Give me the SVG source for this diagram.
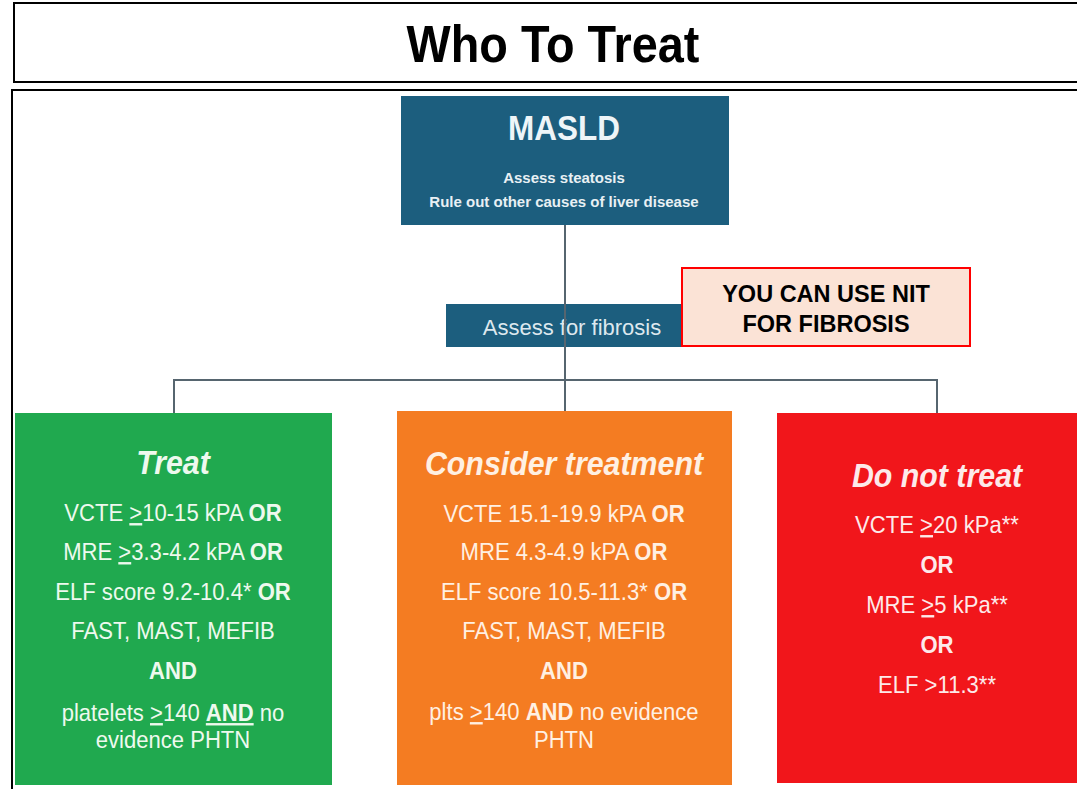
<svg xmlns="http://www.w3.org/2000/svg" width="1077" height="789" viewBox="0 0 1077 789">
<style>
text{font-family:"Liberation Sans",Arial,sans-serif;text-anchor:middle}
.body{font-size:24px}
.b{font-weight:bold}
.u{text-decoration:underline}
.head{font-size:33px;font-weight:bold;font-style:italic}
.conn{stroke:#56656f;stroke-width:2;fill:none}
.tg{fill:#eef9ee}
.to{fill:#fff0e2}
.tr{fill:#fdeaea}
.blue{fill:#1c5e7e}
</style>
<rect width="1077" height="789" fill="#ffffff"/>
<g id="title">
<rect x="14" y="3" width="1070" height="79" fill="#ffffff" stroke="#000000" stroke-width="2"/>
<text transform="translate(553,62) scale(0.9,1)" class="b" font-size="52" fill="#000000">Who To Treat</text>
</g>
<g id="frame">
<path d="M12,789 V90 H1077" fill="none" stroke="#000000" stroke-width="2"/>
</g>
<g id="masld">
<rect x="401" y="96" width="328" height="129" class="blue"/>
<text transform="translate(564,140) scale(0.9,1)" class="b" font-size="35" fill="#eef5f8">MASLD</text>
<text x="564" y="183" class="b" font-size="15" fill="#e8f0f4">Assess steatosis</text>
<text x="564" y="207" class="b" font-size="15" fill="#e8f0f4">Rule out other causes of liver disease</text>
</g>
<g id="fibrosis">
<rect x="446" y="304" width="252" height="43" class="blue"/>
<text x="572" y="335" font-size="22" fill="#dde8ee">Assess for fibrosis</text>
</g>
<g id="connectors">
<path class="conn" d="M565,225 V411"/>
<path class="conn" d="M174,413 V380 H937 V413"/>
</g>
<g id="callout">
<rect x="682" y="268" width="288" height="78" fill="#fbe3d6" stroke="#ff0000" stroke-width="2"/>
<text x="826" y="302" class="b" font-size="23.5" fill="#000000">YOU CAN USE NIT</text>
<text x="826" y="332" class="b" font-size="23.5" fill="#000000">FOR FIBROSIS</text>
</g>
<g id="treat">
<rect x="15" y="413" width="317" height="372" fill="#20a94f"/>
<g transform="translate(173,0) scale(0.92,1)" class="tg">
<text x="0" y="474" class="head">Treat</text>
<text x="0" y="521" class="body">VCTE <tspan class="u">&gt;</tspan>10-15 kPA <tspan class="b">OR</tspan></text>
<text x="0" y="560" class="body">MRE <tspan class="u">&gt;</tspan>3.3-4.2 kPA <tspan class="b">OR</tspan></text>
<text x="0" y="600" class="body">ELF score 9.2-10.4* <tspan class="b">OR</tspan></text>
<text x="0" y="639" class="body">FAST, MAST, MEFIB</text>
<text x="0" y="679" class="body b">AND</text>
<text x="0" y="721" class="body">platelets <tspan class="u">&gt;</tspan>140 <tspan class="b u">AND</tspan> no</text>
<text x="0" y="748" class="body">evidence PHTN</text>
</g>
</g>
<g id="consider">
<rect x="397" y="411" width="335" height="374" fill="#f47c22"/>
<g transform="translate(564,0) scale(0.92,1)" class="to">
<text x="0" y="475" class="head">Consider treatment</text>
<text x="0" y="522" class="body">VCTE 15.1-19.9 kPA <tspan class="b">OR</tspan></text>
<text x="0" y="560" class="body">MRE 4.3-4.9 kPA <tspan class="b">OR</tspan></text>
<text x="0" y="600" class="body">ELF score 10.5-11.3* <tspan class="b">OR</tspan></text>
<text x="0" y="639" class="body">FAST, MAST, MEFIB</text>
<text x="0" y="679" class="body b">AND</text>
<text x="0" y="720" class="body">plts <tspan class="u">&gt;</tspan>140 <tspan class="b">AND</tspan> no evidence</text>
<text x="0" y="748" class="body">PHTN</text>
</g>
</g>
<g id="donottreat">
<rect x="777" y="413" width="300" height="370" fill="#f1161b"/>
<g transform="translate(937,0) scale(0.92,1)" class="tr">
<text x="0" y="487" class="head">Do not treat</text>
<text x="0" y="533" class="body">VCTE <tspan class="u">&gt;</tspan>20 kPa**</text>
<text x="0" y="573" class="body b">OR</text>
<text x="0" y="613" class="body">MRE <tspan class="u">&gt;</tspan>5 kPa**</text>
<text x="0" y="653" class="body b">OR</text>
<text x="0" y="693" class="body">ELF &gt;11.3**</text>
</g>
</g>
</svg>
